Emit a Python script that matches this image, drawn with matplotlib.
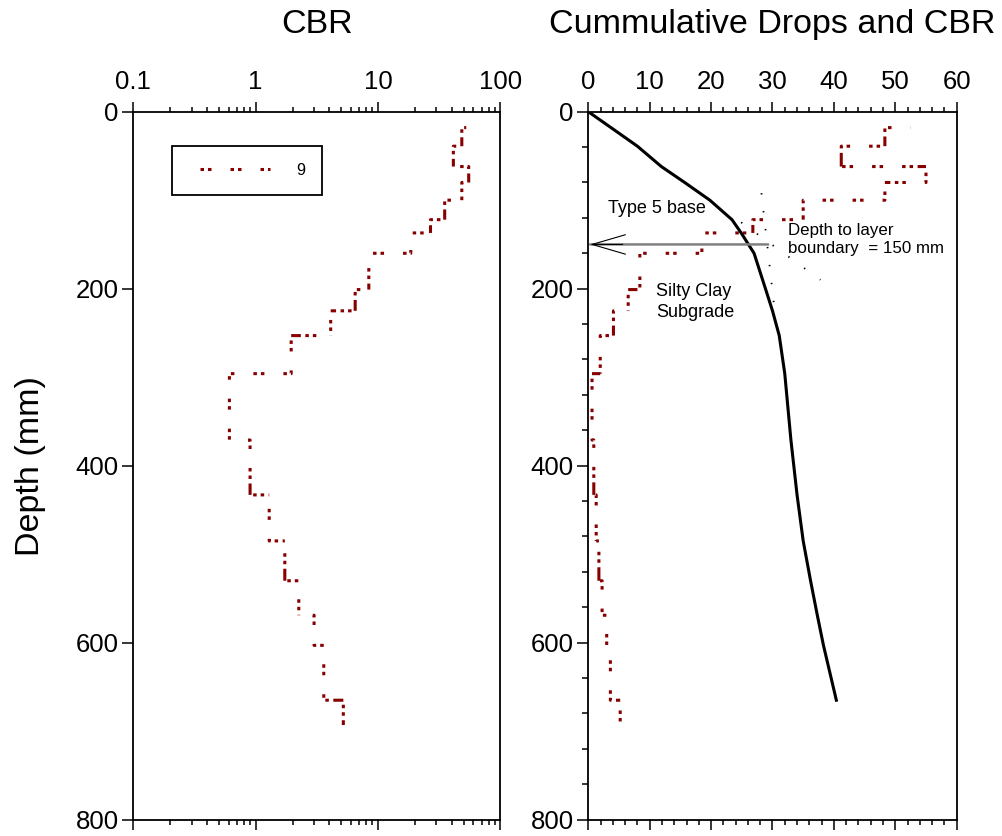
import numpy as np
import matplotlib
matplotlib.use("Agg")
import matplotlib.pyplot as plt
from matplotlib.lines import Line2D
from matplotlib.ticker import (FixedLocator, FixedFormatter, LogLocator,
                               MultipleLocator, NullFormatter, NullLocator)

plt.rcParams["font.family"] = ["Liberation Sans", "DejaVu Sans"]
plt.rcParams["lines.scale_dashes"] = False

# DCP test 9 -- CBR of each penetration layer (layer bottoms in mm)
first_depth_mm = 18
layer_bottom_mm = [18, 39, 62, 80, 100, 122, 137, 160, 201, 225, 253,
                   296, 371, 433, 485, 530, 569, 603, 665, 693]
cbr = [52.5, 48.3, 41.2, 55.0, 48.3, 35.0, 26.8, 18.5, 8.4, 6.5, 4.1,
       1.95, 0.61, 0.90, 1.29, 1.73, 2.25, 3.0, 3.6, 5.2]

# cumulative hammer drops against penetration depth
drop_depth_mm = [0, 18, 39, 62, 80, 100, 122, 137, 160, 201, 225, 253,
                 296, 371, 433, 485, 530, 569, 603, 665]
cumulative_drops = [0, 3.7, 8.0, 11.9, 15.7, 19.8, 23.4, 24.9, 27.0, 28.9,
                    30.0, 31.1, 32.0, 33.0, 34.0, 35.0, 36.2, 37.3, 38.3,
                    40.4]

# straight-line trends of the two layers used to pick the boundary
base_trend_drops = [24.9, 37.8]
base_trend_depth = [125, 190]
subgrade_trend_drops = [28.2, 30.4]
subgrade_trend_depth = [92, 228]
layer_boundary_mm = 150

series_label = "9"
cbr_ticks = [0.1, 1, 10, 100]
cbr_tick_labels = ["0.1", "1", "10", "100"]
depth_ticks = [0, 200, 400, 600, 800]
drop_ticks = [0, 10, 20, 30, 40, 50, 60]

DPI = 100
PX = 72.0 / DPI                      # points per pixel
RED = "#860000"
RED_LW = 2.2
DASH_PX = (3.5, 4.0, 3.5, 19.0)      # short pair, then a long gap
DASH_PERIOD_PX = sum(DASH_PX)
CORNER_FILL_FROM_PX = 15.5           # pen stays down into the gap at a corner
DASH_SEQ_PT = tuple(d * PX for d in DASH_PX)
# dash phase (px) where the layer starting at PHASE_REF_DEPTH_MM begins
PHASE_REF_DEPTH_MM = 296


def step_path(top0, bottoms, values):
    xs, ys = [], []
    tops = [top0] + bottoms[:-1]
    for t, b, v in zip(tops, bottoms, values):
        xs += [v, v]
        ys += [t, b]
    return xs, ys


def plot_step_series(ax, xs, ys, ref_phase_px):
    """Dashed step line; where a segment ends inside the long gap of the
    dash pattern the pen is kept down up to the corner."""
    pts = ax.transData.transform(np.column_stack([xs, ys]))
    seg = np.hypot(*np.diff(pts, axis=0).T)
    run = np.concatenate([[0.0], np.cumsum(seg)])
    ref_idx = 2 * (layer_bottom_mm.index(PHASE_REF_DEPTH_MM) + 1)
    offset_px = (ref_phase_px - run[ref_idx]) % DASH_PERIOD_PX
    ax.plot(xs, ys, color=RED, lw=RED_LW, snap=False,
            linestyle=(offset_px * PX, DASH_SEQ_PT))
    inv = ax.transData.inverted()
    for i in range(1, len(pts)):
        if seg[i - 1] < 1e-6:
            continue
        phase = (offset_px + run[i]) % DASH_PERIOD_PX
        extra = phase - CORNER_FILL_FROM_PX
        if extra <= 0:
            continue
        length = min(extra, seg[i - 1])
        end = pts[i]
        start = end + (pts[i - 1] - end) * (length / seg[i - 1])
        d = inv.transform(np.vstack([start, end]))
        ax.plot(d[:, 0], d[:, 1], color=RED, lw=RED_LW, snap=False,
                solid_capstyle="butt")


cbr_x, cbr_y = step_path(first_depth_mm, layer_bottom_mm, cbr)

fig = plt.figure(figsize=(10.02, 8.36), dpi=DPI)
ax1 = fig.add_axes([0.1330, 0.0195, 0.3665, 0.8469])
ax2 = fig.add_axes([0.5871, 0.0195, 0.3677, 0.8469])

TICK_FS = 18.5

for ax in (ax1, ax2):
    for sp in ax.spines.values():
        sp.set_linewidth(1.3)
    ax.set_ylim(800, 0)
    ax.yaxis.set_major_locator(FixedLocator(depth_ticks))
    ax.tick_params(axis="x", which="both", top=True, bottom=True,
                   labeltop=True, labelbottom=False, direction="out",
                   labelsize=TICK_FS, pad=5)
    ax.tick_params(axis="x", which="major", length=7.5, width=1.1)
    ax.tick_params(axis="x", which="minor", length=3.8, width=1.1)
    ax.tick_params(axis="y", which="both", left=True, right=False,
                   direction="out", labelsize=TICK_FS, pad=2.5)
    ax.tick_params(axis="y", which="major", length=8.0, width=1.1)
    ax.tick_params(axis="y", which="minor", length=4.5, width=1.1)

# ---- left panel: CBR on a log scale
ax1.set_xscale("log")
ax1.set_xlim(0.1, 100)
ax1.xaxis.set_major_locator(FixedLocator(cbr_ticks))
ax1.xaxis.set_major_formatter(FixedFormatter(cbr_tick_labels))
ax1.xaxis.set_minor_locator(LogLocator(base=10, subs=range(2, 10)))
ax1.xaxis.set_minor_formatter(NullFormatter())
ax1.yaxis.set_minor_locator(NullLocator())
plot_step_series(ax1, cbr_x, cbr_y, ref_phase_px=5.0)

legend_handle = Line2D([], [], color=RED, lw=RED_LW,
                       linestyle=(19.0 * PX, DASH_SEQ_PT))
leg = ax1.legend([legend_handle], [series_label], loc="upper left",
                 bbox_to_anchor=(0.105, 0.9515), borderaxespad=0,
                 fontsize=11.7, handlelength=5.0, handletextpad=1.6,
                 borderpad=1.05, fancybox=False, framealpha=1,
                 edgecolor="black")
leg.get_frame().set_linewidth(1.3)

# ---- right panel: cumulative drops and CBR
ax2.set_xlim(0, 60)
ax2.xaxis.set_major_locator(FixedLocator(drop_ticks))
ax2.xaxis.set_minor_locator(MultipleLocator(2))
ax2.yaxis.set_minor_locator(MultipleLocator(40))
plot_step_series(ax2, cbr_x, cbr_y, ref_phase_px=25.0)
ax2.plot(base_trend_drops, base_trend_depth, color="black", lw=1.3,
         linestyle=(0, (1.0, 13.0)))
ax2.plot(subgrade_trend_drops, subgrade_trend_depth, color="black", lw=1.3,
         linestyle=(0, (1.0, 12.0)))
ax2.plot(cumulative_drops, drop_depth_mm, color="black", lw=2.2,
         solid_joinstyle="round")

# boundary arrow
ax2.annotate("", xy=(0.3, layer_boundary_mm), xytext=(29.3, layer_boundary_mm),
             arrowprops=dict(arrowstyle="-", color="#808080", lw=1.8,
                             shrinkA=0, shrinkB=0))
ax2.annotate("", xy=(0.3, layer_boundary_mm), xytext=(5.6, layer_boundary_mm),
             arrowprops=dict(arrowstyle="->,head_length=2.4,head_width=0.7",
                             color="black", lw=0.8, shrinkA=0, shrinkB=0))

ax2.text(3.2, 109, "Type 5 base", fontsize=13, va="center", ha="left")
ax2.text(32.6, 144.5, "Depth to layer\nboundary  = 150 mm", fontsize=12.2,
         va="center", ha="left", linespacing=1.22)
ax2.text(11.0, 215, "Silty Clay\nSubgrade", fontsize=13, va="center",
         ha="left", linespacing=1.25)

# titles and shared depth label
fig.text(317 / 1002, 1 - 33 / 836, "CBR", fontsize=24.5, ha="center",
         va="baseline")
fig.text(772 / 1002, 1 - 33 / 836, "Cummulative Drops and CBR",
         fontsize=24.5, ha="center", va="baseline")
fig.text(31 / 1002, 1 - 466 / 836, "Depth (mm)", fontsize=24.5,
         rotation=90, ha="center", va="center")

fig.savefig("out.png", dpi=DPI)
